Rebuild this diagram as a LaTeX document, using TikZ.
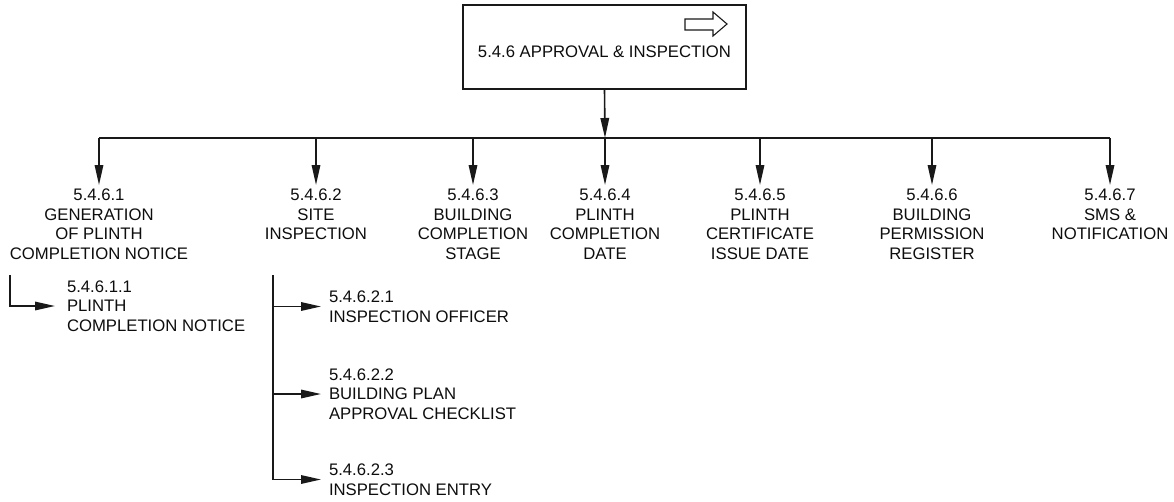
\documentclass[tikz,border=0pt]{standalone}
\usepackage{fontspec}
\setmainfont{Liberation Sans}
\usetikzlibrary{arrows.meta}
\begin{document}
\begin{tikzpicture}[x=1pt,y=-1pt,
  every node/.style={text=black!95, font=\fontsize{16.7}{19.6}\selectfont},
  line/.style={line width=1.6pt, draw=black!90},
  arr/.style={line width=1.6pt, draw=black!90, -{Triangle[length=20pt,width=8.5pt]}},
  child/.style={align=center, anchor=north, inner sep=0pt, outer sep=0pt},
  sub/.style={align=left, anchor=west, inner sep=0pt, outer sep=0pt},
  mainbox/.style={draw=black!90, line width=1.9pt, minimum width=283pt, minimum height=84pt, inner sep=0pt}
]
\useasboundingbox (0,0) rectangle (1174,501);
% top box
\node[mainbox] (top) at (604.5,47) {};
\node[inner sep=0pt] (toptext) at (604.5,52) {5.4.6 APPROVAL \& INSPECTION};
\draw[line width=1.1pt, draw=black!90] (685,19) -- (713,19) -- (713,12) -- (727,24) -- (713,36) -- (713,30) -- (685,30) -- cycle;
% bus coordinates
\coordinate (bus) at (605,138);
\foreach \i/\x in {1/99,2/316,3/473,4/605,5/760,6/932,7/1110}{
  \coordinate (b\i) at (\x,138);
}
\draw[arr] (top.south) -- (bus);
\draw[line] (b1) -- (b7);
% children
\node[child] (c1) at (99,189) {5.4.6.1\\GENERATION\\OF PLINTH\\COMPLETION NOTICE};
\node[child] (c2) at (316,189) {5.4.6.2\\SITE\\INSPECTION};
\node[child] (c3) at (473,189) {5.4.6.3\\BUILDING\\COMPLETION\\STAGE};
\node[child] (c4) at (605,189) {5.4.6.4\\PLINTH\\COMPLETION\\DATE};
\node[child] (c5) at (760,189) {5.4.6.5\\PLINTH\\CERTIFICATE\\ISSUE DATE};
\node[child] (c6) at (932,189) {5.4.6.6\\BUILDING\\PERMISSION\\REGISTER};
\node[child] (c7) at (1110,189) {5.4.6.7\\SMS \&\\NOTIFICATION};
\foreach \i in {1,...,7}{
  \draw[arr, shorten >=4pt] (b\i) -- (c\i.north);
}
% sub items of 5.4.6.1
\coordinate (v1) at (10,275);
\node[sub] (s11) at (67,306) {5.4.6.1.1\\PLINTH\\COMPLETION NOTICE};
\draw[arr] (v1) |- ([xshift=-12pt]s11.west);
% sub items of 5.4.6.2
\coordinate (v2) at (273,275);
\node[sub] (s21) at (329,306.5) {5.4.6.2.1\\INSPECTION OFFICER};
\node[sub] (s22) at (329,394) {5.4.6.2.2\\BUILDING PLAN\\APPROVAL CHECKLIST};
\node[sub] (s23) at (329,479.5) {5.4.6.2.3\\INSPECTION ENTRY};
\draw[arr] (v2) |- ([xshift=-8pt]s23.west);
\draw[arr] (v2 |- s21.west) -- ([xshift=-8pt]s21.west);
\draw[arr] (v2 |- s22.west) -- ([xshift=-8pt]s22.west);
\end{tikzpicture}
\end{document}
